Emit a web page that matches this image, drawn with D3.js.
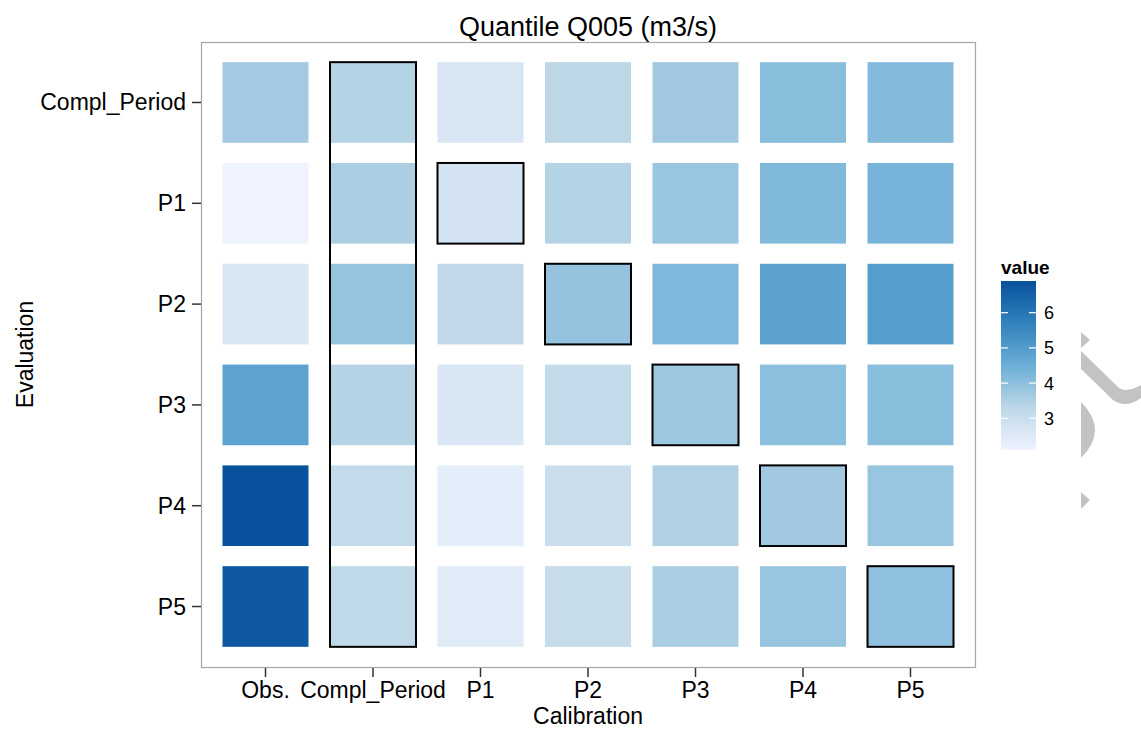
<!DOCTYPE html>
<html>
<head>
<meta charset="utf-8">
<script src="https://cdn.jsdelivr.net/npm/d3@7"></script>
<style>
  body { margin: 0; background: #fff; }
  text { font-family: "Liberation Sans", Arial, sans-serif; }
</style>
</head>
<body>
<div id="chart"></div>
<script>
// categories
var calibration = ["Obs.", "Compl_Period", "P1", "P2", "P3", "P4", "P5"];
var evaluation = ["Compl_Period", "P1", "P2", "P3", "P4", "P5"];

// Q005 values, one array per evaluation period (same order as calibration)
var evalComplPeriod = [3.68, 3.43, 2.65, 3.30, 3.73, 4.07, 4.14];
var evalP1 = [2.10, 3.56, 2.77, 3.43, 3.84, 4.18, 4.31];
var evalP2 = [2.63, 3.87, 3.20, 3.88, 4.21, 4.83, 4.96];
var evalP3 = [4.81, 3.42, 2.63, 3.18, 3.76, 4.02, 4.07];
var evalP4 = [6.90, 3.18, 2.36, 2.99, 3.49, 3.71, 3.84];
var evalP5 = [6.71, 3.23, 2.46, 3.08, 3.59, 3.84, 3.97];

var legendTicks = [3, 4, 5, 6];
var blues = ["#eff3ff", "#bdd7e7", "#6baed6", "#3182bd", "#08519c"];

var rows = [evalComplPeriod, evalP1, evalP2, evalP3, evalP4, evalP5];
var data = [];
evaluation.forEach(function(ev, i) {
  calibration.forEach(function(cal, j) {
    data.push({ cal: cal, ev: ev, value: rows[i][j] });
  });
});

var W = 1141, H = 729;
var panel = {left: 201, right: 975, top: 42, bottom: 667};
var axisFont = 23;

var svg = d3.select("#chart").append("svg")
    .attr("width", W)
    .attr("height", H);

function label(g, x, y, str, size, anchor) {
  return g.append("text")
    .attr("x", x)
    .attr("y", y)
    .attr("text-anchor", anchor)
    .attr("font-size", size)
    .attr("fill", "#000")
    .text(str);
}

var x = d3.scalePoint()
    .domain(calibration)
    .range([panel.left, panel.right])
    .padding(0.6);
var y = d3.scalePoint()
    .domain(evaluation)
    .range([panel.top, panel.bottom])
    .padding(0.6);

var vExtent = d3.extent(data, d => d.value);
var color = d3.scaleLinear()
    .domain(blues.map((c, i) => vExtent[0] + i / (blues.length - 1) * (vExtent[1] - vExtent[0])))
    .range(blues)
    .interpolate(d3.interpolateRgb);

var tw = x.step() * 0.8, th = y.step() * 0.8;

// panel border
svg.append("rect")
  .attr("x", panel.left + 0.5)
  .attr("y", panel.top + 0.5)
  .attr("width", panel.right - panel.left)
  .attr("height", panel.bottom - panel.top)
  .attr("fill", "#fff")
  .attr("stroke", "#a6a6a6")
  .attr("stroke-width", 1.2);

// tiles
svg.append("g").selectAll("rect")
  .data(data)
  .enter().append("rect")
    .attr("x", d => x(d.cal) - tw / 2)
    .attr("y", d => y(d.ev) - th / 2)
    .attr("width", tw)
    .attr("height", th)
    .attr("fill", d => color(d.value));

// boxes: calibration period == evaluation period
var boxes = svg.append("g")
  .attr("fill", "none")
  .attr("stroke", "#000")
  .attr("stroke-width", 2);
boxes.selectAll("rect")
  .data(data.filter(d => d.cal === d.ev && d.cal !== "Compl_Period"))
  .enter().append("rect")
    .attr("x", d => x(d.cal) - tw / 2)
    .attr("y", d => y(d.ev) - th / 2)
    .attr("width", tw)
    .attr("height", th);
// whole Compl_Period column
boxes.append("rect")
  .attr("x", x("Compl_Period") - tw / 2)
  .attr("y", y(evaluation[0]) - th / 2)
  .attr("width", tw)
  .attr("height", y(evaluation[evaluation.length - 1]) - y(evaluation[0]) + th);

// x axis
var xa = svg.append("g");
calibration.forEach(function(c) {
  xa.append("line")
    .attr("x1", x(c)).attr("x2", x(c))
    .attr("y1", panel.bottom + 1).attr("y2", panel.bottom + 10)
    .attr("stroke", "#333").attr("stroke-width", 1.5);
  label(xa, x(c), 698, c, axisFont, "middle");
});
label(svg, (panel.left + panel.right) / 2, 724, "Calibration", axisFont, "middle");

// y axis
var ya = svg.append("g");
evaluation.forEach(function(e) {
  ya.append("line")
    .attr("x1", panel.left - 9).attr("x2", panel.left)
    .attr("y1", y(e)).attr("y2", y(e))
    .attr("stroke", "#333").attr("stroke-width", 1.5);
  label(ya, panel.left - 15, y(e) + 8, e, axisFont, "end");
});
label(svg, 0, 0, "Evaluation", axisFont, "middle")
  .attr("transform", "translate(33," + (panel.top + panel.bottom) / 2 + ") rotate(-90)");

// title
label(svg, (panel.left + panel.right) / 2, 36, "Quantile Q005 (m3/s)", 27, "middle");

// colour bar legend
var lg = {x: 1001, w: 35, top: 281, bottom: 450};
var ly = d3.scaleLinear().domain(vExtent).range([lg.bottom, lg.top]);
var grad = svg.append("defs").append("linearGradient")
  .attr("id", "bar-gradient")
  .attr("x1", 0).attr("y1", 1).attr("x2", 0).attr("y2", 0);
d3.range(0, 1.0001, 0.05).forEach(function(t) {
  grad.append("stop")
    .attr("offset", t)
    .attr("stop-color", color(vExtent[0] + t * (vExtent[1] - vExtent[0])));
});
svg.append("rect")
  .attr("x", lg.x).attr("y", lg.top)
  .attr("width", lg.w).attr("height", lg.bottom - lg.top)
  .attr("fill", "url(#bar-gradient)");
legendTicks.forEach(function(t) {
  svg.append("line")
    .attr("x1", lg.x).attr("x2", lg.x + 7)
    .attr("y1", ly(t)).attr("y2", ly(t))
    .attr("stroke", "#fff").attr("stroke-width", 1.2);
  svg.append("line")
    .attr("x1", lg.x + lg.w - 7).attr("x2", lg.x + lg.w)
    .attr("y1", ly(t)).attr("y2", ly(t))
    .attr("stroke", "#fff").attr("stroke-width", 1.2);
  label(svg, lg.x + lg.w + 8, ly(t) + 6.5, t, 18, "start");
});
label(svg, lg.x, 274, "value", 19, "start").attr("font-weight", "bold");

// grey shapes cut off at the right edge of the picture
var mark = svg.append("g").attr("fill", "#c3c3c3");
mark.append("path").attr("d", "M1081,332L1090,340L1081,348Z");
mark.append("path").attr("d", "M1081,351L1119,388Q1127,393 1141,385L1141,398Q1126,409 1113,400L1081,369Z");
mark.append("path").attr("d", "M1081,402Q1109,430 1081,458Z");
mark.append("path").attr("d", "M1081,492L1090,500L1081,509Z");
</script>
</body>
</html>
